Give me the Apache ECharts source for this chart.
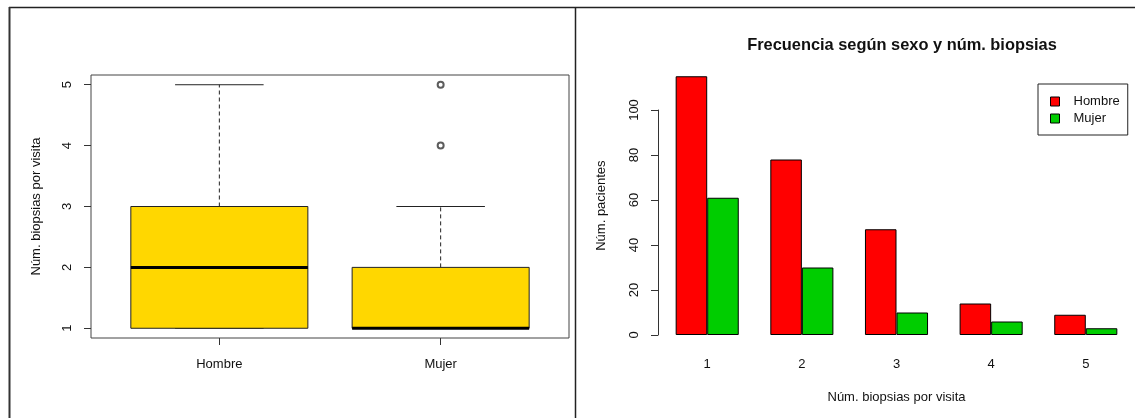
<!DOCTYPE html>
<html>
<head>
<meta charset="utf-8">
<script src="https://cdn.jsdelivr.net/npm/echarts@6/dist/echarts.min.js"></script>
<style>
  html, body { margin: 0; padding: 0; background: #fff; }
  #chart { width: 1135px; height: 418px; }
</style>
</head>
<body>
<div id="chart"></div>
<script>
// ---- data ----
const sexes = ['Hombre', 'Mujer'];
// boxplot five-number summaries: [lower whisker, Q1, median, Q3, upper whisker]
const boxStats = [
  [1, 1, 2, 3, 5],
  [1, 1, 1, 2, 3]
];
// outlying visits for Mujer
const outlierGroup = [2, 2];
const outlierValues = [4, 5];
const boxTicks = [1, 2, 3, 4, 5];

// bar chart: patients by number of biopsies per visit
const biopsyCounts = ['1', '2', '3', '4', '5'];
const hombre = [115, 78, 47, 14, 9];
const mujer = [61, 30, 10, 6, 3];
const countTicks = [0, 20, 40, 60, 80, 100];

const FONT = '"Liberation Sans", Arial, sans-serif';
const INK = '#111';

// R style layout: each group = gap of 1 + two bars of width 1
const groupCenters = biopsyCounts.map((_, i) => 2 + 3 * i);

const chart = echarts.init(document.getElementById('chart'), null, { renderer: 'canvas' });

const option = {
  animation: false,
  backgroundColor: '#ffffff',
  textStyle: { fontFamily: FONT, color: INK },
  title: {
    text: 'Frecuencia según sexo y núm. biopsias',
    left: 897,
    textAlign: 'center',
    top: 32,
    textStyle: { fontFamily: FONT, fontSize: 16.4, fontWeight: 'bold', color: INK }
  },
  legend: {
    data: ['Hombre', 'Mujer'],
    orient: 'vertical',
    left: 1038,
    top: 84,
    padding: [10, 8, 9, 12],
    itemGap: 2,
    itemWidth: 9,
    itemHeight: 9,
    icon: 'rect',
    borderColor: '#222',
    borderWidth: 1,
    borderRadius: 0,
    itemStyle: { borderColor: '#000', borderWidth: 1 },
    textStyle: { fontFamily: FONT, fontSize: 13, color: INK, padding: [0, 0, 0, 9], lineHeight: 15 }
  },
  grid: [
    // boxplot panel
    { left: 91, top: 75, width: 478, height: 263, show: true, borderColor: '#444', borderWidth: 1, backgroundColor: 'transparent' },
    // bar panel (plot region)
    { left: 658, top: 65.9, width: 478, height: 279.45 },
    // bar panel y axis line (0..100)
    { left: 658, top: 110, width: 478, height: 225 }
  ],
  xAxis: [
    {
      gridIndex: 0, type: 'value', min: 0.42, max: 2.58,
      splitLine: { show: false },
      axisLine: { show: false },
      axisTick: { show: true, length: 7, customValues: [1, 2], lineStyle: { color: '#333' } },
      axisLabel: {
        customValues: [1, 2], margin: 20, fontSize: 13, color: INK, fontFamily: FONT,
        formatter: v => sexes[Math.round(v) - 1]
      }
    },
    {
      gridIndex: 1, type: 'value', min: 0.44, max: 15.56,
      splitLine: { show: false },
      axisLine: { show: false },
      axisTick: { show: false },
      axisLabel: {
        customValues: groupCenters, margin: 13, fontSize: 13, color: INK, fontFamily: FONT,
        formatter: v => biopsyCounts[Math.round((v - 2) / 3)]
      },
      name: 'Núm. biopsias por visita',
      nameLocation: 'middle',
      nameGap: 46,
      nameTextStyle: { fontSize: 13, color: INK, fontFamily: FONT }
    },
    { gridIndex: 2, type: 'value', min: 0, max: 1, show: false }
  ],
  yAxis: [
    {
      gridIndex: 0, type: 'value', min: 0.84, max: 5.16,
      splitLine: { show: false },
      axisLine: { show: false },
      axisTick: { show: true, length: 7, customValues: boxTicks, lineStyle: { color: '#333' } },
      axisLabel: {
        customValues: boxTicks, rotate: 90, margin: 17, fontSize: 13, color: INK, fontFamily: FONT
      },
      name: 'Núm. biopsias por visita',
      nameLocation: 'middle',
      nameGap: 48,
      nameRotate: 90,
      nameTextStyle: { fontSize: 13, color: INK, fontFamily: FONT }
    },
    {
      gridIndex: 1, type: 'value', min: -4.6, max: 119.6,
      splitLine: { show: false },
      axisLine: { show: false },
      axisTick: { show: true, length: 7, customValues: countTicks, lineStyle: { color: '#333' } },
      axisLabel: {
        customValues: countTicks, rotate: 90, margin: 17, fontSize: 13, color: INK, fontFamily: FONT
      },
      name: 'Núm. pacientes',
      nameLocation: 'middle',
      nameGap: 50,
      nameRotate: 90,
      nameTextStyle: { fontSize: 13, color: INK, fontFamily: FONT }
    },
    {
      gridIndex: 2, type: 'value', min: 0, max: 100,
      splitLine: { show: false },
      axisLine: { show: true, lineStyle: { color: '#333', width: 1 } },
      axisTick: { show: false },
      axisLabel: { show: false }
    }
  ],
  graphic: [
    // frame of the two panels
    { type: 'line', shape: { x1: 9, y1: 7.5, x2: 1135, y2: 7.5 }, style: { stroke: '#222', lineWidth: 1.5 }, silent: true },
    { type: 'line', shape: { x1: 9.5, y1: 7, x2: 9.5, y2: 418 }, style: { stroke: '#333', lineWidth: 2 }, silent: true },
    { type: 'line', shape: { x1: 575.5, y1: 7, x2: 575.5, y2: 418 }, style: { stroke: '#222', lineWidth: 1.5 }, silent: true }
  ],
  series: [
    {
      name: 'boxes',
      type: 'custom',
      xAxisIndex: 0, yAxisIndex: 0,
      data: boxStats.map((s, i) => [i + 1].concat(s)),
      encode: { x: 0, y: [1, 2, 3, 4, 5] },
      renderItem: function (params, api) {
        const x = api.value(0);
        const lo = api.value(1), q1 = api.value(2), med = api.value(3), q3 = api.value(4), hi = api.value(5);
        const halfW = api.size([0.8, 0])[0] / 2;
        const capHalf = halfW / 2;
        const cx = api.coord([x, lo])[0];
        const yLo = api.coord([x, lo])[1];
        const yQ1 = api.coord([x, q1])[1];
        const yMed = api.coord([x, med])[1];
        const yQ3 = api.coord([x, q3])[1];
        const yHi = api.coord([x, hi])[1];
        const whisker = { stroke: '#222', lineWidth: 1, lineDash: [4, 3] };
        const solid = { stroke: '#222', lineWidth: 1 };
        return {
          type: 'group',
          children: [
            { type: 'line', shape: { x1: cx, y1: yQ3, x2: cx, y2: yHi }, style: whisker },
            { type: 'line', shape: { x1: cx, y1: yQ1, x2: cx, y2: yLo }, style: whisker },
            { type: 'line', shape: { x1: cx - capHalf, y1: yHi, x2: cx + capHalf, y2: yHi }, style: solid },
            { type: 'line', shape: { x1: cx - capHalf, y1: yLo, x2: cx + capHalf, y2: yLo }, style: solid },
            { type: 'rect', shape: { x: cx - halfW, y: yQ3, width: halfW * 2, height: yQ1 - yQ3 },
              style: { fill: '#FFD700', stroke: '#222', lineWidth: 1 } },
            { type: 'line', shape: { x1: cx - halfW, y1: yMed, x2: cx + halfW, y2: yMed },
              style: { stroke: '#000', lineWidth: 3 } }
          ]
        };
      }
    },
    {
      name: 'outliers',
      type: 'scatter',
      xAxisIndex: 0, yAxisIndex: 0,
      data: outlierValues.map((v, i) => [outlierGroup[i], v]),
      symbol: 'emptyCircle',
      symbolSize: 6,
      itemStyle: { color: '#333', borderWidth: 0.9 }
    },
    {
      name: 'Hombre',
      type: 'bar',
      xAxisIndex: 1, yAxisIndex: 1,
      data: hombre.map((v, i) => [groupCenters[i], v]),
      barWidth: '33.33%',
      barGap: '0%',
      itemStyle: { color: '#FF0000', borderColor: '#000', borderWidth: 1 }
    },
    {
      name: 'Mujer',
      type: 'bar',
      xAxisIndex: 1, yAxisIndex: 1,
      data: mujer.map((v, i) => [groupCenters[i], v]),
      barWidth: '33.33%',
      barGap: '0%',
      itemStyle: { color: '#00CD00', borderColor: '#000', borderWidth: 1 }
    }
  ]
};

chart.setOption(option);
</script>
</body>
</html>
